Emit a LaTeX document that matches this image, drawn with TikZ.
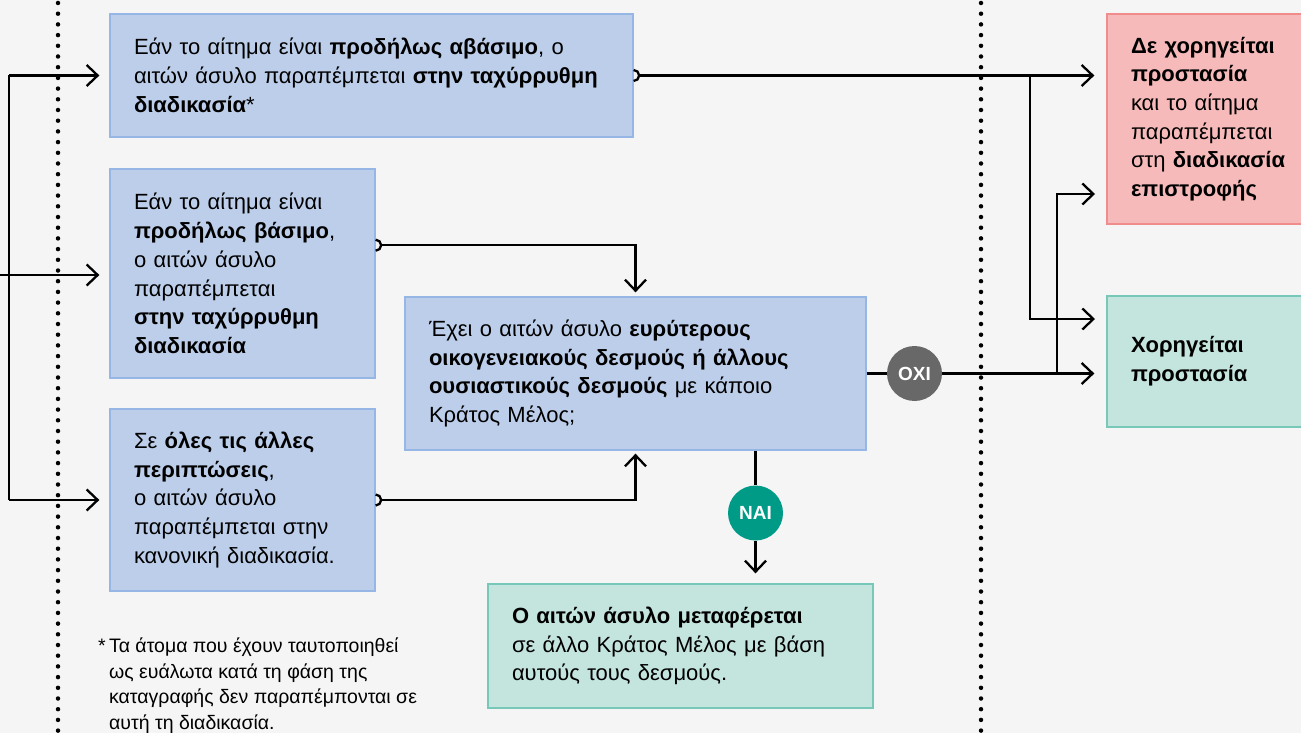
\documentclass[tikz,border=0pt]{standalone}
\usepackage{fontspec}
\setmainfont{Liberation Sans}
\usetikzlibrary{arrows.meta,calc}
\definecolor{bgc}{RGB}{245,245,245}
\definecolor{bluef}{RGB}{188,206,234}
\definecolor{blued}{RGB}{150,182,230}
\definecolor{pinkf}{RGB}{247,186,186}
\definecolor{pinkd}{RGB}{240,140,140}
\definecolor{greenf}{RGB}{196,228,222}
\definecolor{greend}{RGB}{120,200,185}
\definecolor{oxic}{RGB}{104,104,104}
\definecolor{naic}{RGB}{0,155,135}
\begin{document}
\begin{tikzpicture}[x=1pt,y=-1pt,
  boxbase/.style={rectangle,line width=1.3pt,inner xsep=24pt,inner ysep=0pt,align=left,
    font=\fontsize{22}{28.7}\selectfont,anchor=center},
  bluebox/.style={boxbase,fill=bluef,draw=blued},
  pinkbox/.style={boxbase,fill=pinkf,draw=pinkd},
  greenbox/.style={boxbase,fill=greenf,draw=greend},
  lw/.style={line width=2.3pt,black},
  conn/.style={lw,-{Straight Barb[length=11pt,width=21pt,line width=2.3pt]}},
  plain/.style={lw},
  dotline/.style={line width=4.5pt,line cap=round,dash pattern=on 0pt off 10.7pt,black},
  badge/.style={circle,minimum size=55pt,inner sep=0pt,text=white,font=\fontsize{19}{19}\selectfont\bfseries},
]
\useasboundingbox (0,0) rectangle (1301,733);
\begin{scope}
\clip (0,0) rectangle (1301,733);
\fill[bgc] (0,0) rectangle (1301,733);

% dotted separators
\coordinate (d1t) at (58,3); \coordinate (d1b) at (58,733);
\coordinate (d2t) at (981,3); \coordinate (d2b) at (981,733);
\draw[dotline] (d1t) -- (d1b);
\draw[dotline] (d2t) -- (d2b);

% boxes
\node[bluebox,minimum width=523pt,minimum height=123pt,text width=475pt] (A) at (371.5,75.5)
 {Εάν το αίτημα είναι \textbf{προδήλως αβάσιμο}, ο\\αιτών άσυλο παραπέμπεται \textbf{στην ταχύρρυθμη}\\\textbf{διαδικασία}*};
\node[bluebox,minimum width=265pt,minimum height=209pt,text width=217pt] (B) at (242.5,273.5)
 {Εάν το αίτημα είναι\\\textbf{προδήλως βάσιμο},\\ο αιτών άσυλο\\παραπέμπεται\\\textbf{στην ταχύρρυθμη}\\\textbf{διαδικασία}};
\node[bluebox,minimum width=265pt,minimum height=182pt,text width=217pt] (C) at (242.5,500)
 {Σε \textbf{όλες τις άλλες}\\\textbf{περιπτώσεις},\\ο αιτών άσυλο\\παραπέμπεται στην\\κανονική διαδικασία.};
\node[bluebox,minimum width=461pt,minimum height=153pt,text width=413pt] (D) at (635.5,373.5)
 {Έχει ο αιτών άσυλο \textbf{ευρύτερους}\\\textbf{οικογενειακούς δεσμούς ή άλλους}\\\textbf{ουσιαστικούς δεσμούς} με κάποιο\\Κράτος Μέλος;};
\node[greenbox,minimum width=385pt,minimum height=124pt,text width=337pt] (E) at (680.5,646)
 {\textbf{Ο αιτών άσυλο μεταφέρεται}\\σε άλλο Κράτος Μέλος με βάση\\αυτούς τους δεσμούς.};
\node[pinkbox,minimum width=220pt,minimum height=210pt,text width=172pt] (F) at (1217,119)
 {\textbf{Δε χορηγείται}\\\textbf{προστασία}\\και το αίτημα\\παραπέμπεται\\στη \textbf{διαδικασία}\\\textbf{επιστροφής}};
\node[greenbox,minimum width=220pt,minimum height=131pt,text width=172pt] (G) at (1217,361.5)
 {\textbf{Χορηγείται}\\\textbf{προστασία}};

% footnote
\node[anchor=north west,align=left,inner sep=0pt,font=\fontsize{19.5}{25.4}\selectfont] (fn) at (98,638)
 {*\,Τα άτομα που έχουν ταυτοποιηθεί\\\hspace*{11pt}ως ευάλωτα κατά τη φάση της\\\hspace*{11pt}καταγραφής δεν παραπέμπονται σε\\\hspace*{11pt}αυτή τη διαδικασία.};

% left trunk
\coordinate (in) at (0,275);
\coordinate (tt) at (9,75.5);
\coordinate (tb) at (9,500);
\draw[plain] (tt) -- (tb);
\draw[conn,shorten >=10pt] (tt) -- (A.west);
\draw[conn,shorten >=10pt] (in) -- (B.west |- in);
\draw[conn,shorten >=10pt] (tb) -- (C.west);

% badges
\node[badge,fill=oxic] (oxi) at (914.5,373.5) {OXI};
\node[badge,fill=naic] (nai) at (755.5,513) {NAI};

% A -> F and branch to G
\coordinate (j1) at (1030,75.5);
\coordinate (gtop) at (1107,319);
\draw[conn,shorten >=12pt] ([xshift=5.5pt]A.east) -- (A.east -| F.west);
\draw[lw] ([yshift=5.5pt]A.east) arc (90:-90:5.5pt);
\draw[conn,shorten >=12pt] (j1) |- (gtop);

% B -> D
\draw[conn,shorten >=4pt] ([xshift=5.5pt]B.12) -| (D.north);
\draw[lw] ([yshift=5.5pt]B.12) arc (90:-90:5.5pt);

% C -> D
\draw[conn,shorten >=3pt] ([xshift=5.5pt]C.east) -| (D.south);
\draw[lw] ([yshift=5.5pt]C.east) arc (90:-90:5.5pt);

% D -> OXI -> G, branch to F
\draw[plain] (D.east) -- (oxi);
\draw[conn,shorten >=12pt] (oxi) -- (oxi -| G.west);
\coordinate (j2) at (1057,373.5);
\coordinate (fbot) at (1107,194);
\draw[conn,shorten >=12pt] (j2) |- (fbot);

% D -> NAI -> E
\draw[plain] (D.south -| nai) -- (nai);
\draw[conn,shorten >=10pt] (nai) -- (nai |- E.north);
\end{scope}
\end{tikzpicture}
\end{document}
